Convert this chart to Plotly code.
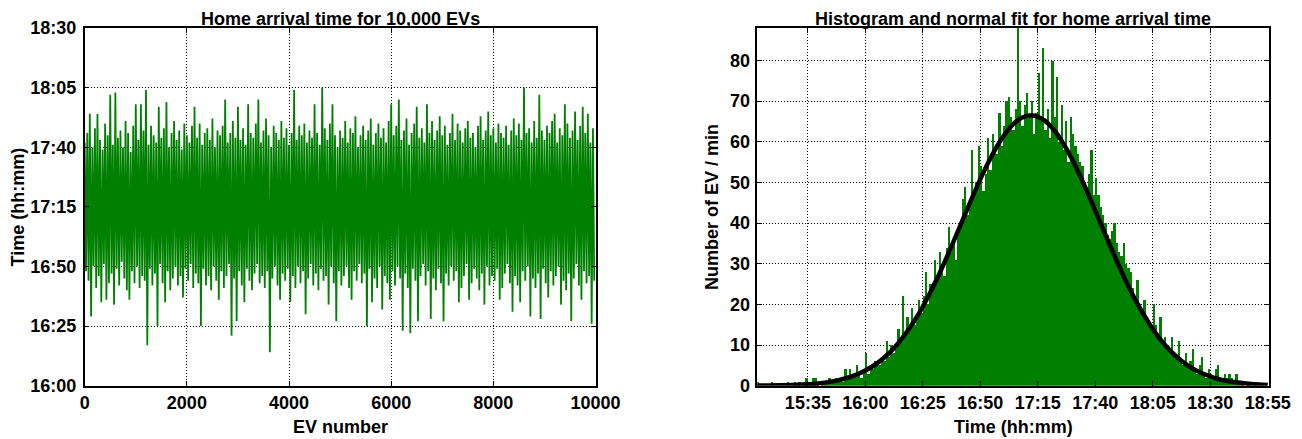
import numpy as np
import plotly.graph_objects as go

# ---------------- data (times in minutes after midnight) ----------------
# Left chart: arrival times of EVs, read as alternating upper / lower excursions
upper_arrivals = [
    1062, 1066, 1074, 1060, 1068, 1074, 1063, 1059, 1070, 1065, 1082, 1061, 1083, 1064, 1067, 1060, 1071, 1066, 1058, 1069,
    1078, 1063, 1078, 1067, 1084, 1061, 1069, 1065, 1062, 1077, 1064, 1068, 1079, 1060, 1066, 1071, 1063, 1067, 1059, 1070,
    1065, 1062, 1069, 1077, 1064, 1070, 1061, 1066, 1068, 1063, 1072, 1060, 1067, 1065, 1069, 1080, 1062, 1066, 1071, 1064,
    1077, 1063, 1068, 1061, 1078, 1066, 1064, 1070, 1080, 1062, 1067, 1072, 1065, 1060, 1069, 1066, 1063, 1071, 1064, 1068,
    1061, 1066, 1084, 1063, 1069, 1065, 1070, 1062, 1067, 1064, 1078, 1066, 1061, 1085, 1068, 1063, 1070, 1078, 1065, 1060,
    1067, 1064, 1071, 1062, 1068, 1066, 1073, 1060, 1065, 1069, 1063, 1067, 1072, 1061, 1066, 1070, 1064, 1068, 1062, 1071,
    1078, 1065, 1069, 1080, 1063, 1067, 1072, 1061, 1066, 1070, 1077, 1064, 1068, 1062, 1078, 1066, 1071, 1063, 1067, 1073,
    1065, 1069, 1061, 1066, 1074, 1063, 1070, 1067, 1062, 1068, 1071, 1064, 1066, 1060, 1069, 1073, 1063, 1067, 1075, 1065,
    1068, 1062, 1070, 1066, 1064, 1069, 1061, 1067, 1072, 1065, 1070, 1063, 1085, 1066, 1068, 1062, 1071, 1064, 1082, 1067,
    1063, 1069, 1066, 1071, 1074, 1062, 1068, 1065, 1078, 1070, 1064, 1067, 1075, 1063, 1069, 1077, 1066, 1074, 1062, 1068,
]
lower_arrivals = [
    1008, 1004, 989, 1010, 1001, 1006, 995, 1011, 996, 1003, 1007, 994, 1009, 1002, 1012, 1005, 1000, 996, 1008, 1003,
    1010, 1001, 1006, 1004, 977, 1009, 1002, 1007, 985, 1011, 1003, 995, 1008, 1000, 1005, 1010, 1002, 1006, 997, 1009,
    1004, 1011, 1001, 1007, 1003, 985, 1009, 1002, 1006, 1000, 1010, 1004, 996, 1008, 1001, 1006, 1011, 981, 1005, 987,
    1008, 1002, 995, 1009, 1004, 1000, 1007, 1011, 1003, 1006, 1001, 1008, 974, 1005, 1010, 1002, 996, 1007, 1004, 1009,
    995, 1006, 1001, 1010, 1003, 1008, 990, 1005, 1011, 1002, 1007, 1000, 1009, 1004, 1006, 994, 1010, 1003, 987, 1008,
    1002, 1006, 1010, 1001, 996, 1008, 1004, 1011, 1003, 1007, 985, 1009, 995, 1005, 1001, 1010, 992, 1006, 1003, 996,
    1008, 1002, 1010, 1005, 983, 1007, 1001, 982, 1009, 1004, 987, 1006, 1011, 1002, 1008, 988, 1005, 1000, 1009, 1003,
    987, 1007, 1002, 1010, 1004, 1008, 995, 1001, 1006, 1011, 996, 1003, 1009, 1005, 1000, 1007, 994, 1010, 1002, 1006,
    1004, 1009, 996, 1001, 1007, 1011, 1003, 991, 1006, 1002, 995, 1008, 1004, 1010, 989, 1005, 1001, 1007, 988, 1009,
    1003, 997, 1008, 1002, 1006, 1010, 994, 1004, 1000, 1007, 987, 1005, 1011, 1002, 996, 1008, 1003, 1006, 986, 1004,
]
ev_step = 25  # EVs between consecutive sampled arrivals

# Right chart: histogram counts per minute bin, starting at 15:13
hist_start_minute = 913
hist_counts = [
    1, 0, 0, 0, 0, 0, 1, 0, 0, 0,
    0, 0, 0, 1, 0, 0, 1, 0, 1, 0,
    1, 2, 1, 0, 2, 2, 1, 0, 1, 1,
    1, 2, 1, 1, 2, 1, 2, 1, 4, 2,
    4, 2, 3, 5, 3, 2, 4, 8, 3, 5,
    4, 6, 6, 5, 7, 6, 11, 7, 10, 8,
    9, 14, 11, 22, 13, 17, 14, 19, 15, 17,
    21, 18, 22, 28, 20, 25, 24, 31, 26, 33,
    30, 27, 34, 39, 33, 36, 31, 38, 40, 46,
    49, 42, 45, 58, 47, 50, 59, 54, 48, 52,
    61, 53, 62, 58, 57, 67, 59, 64, 70, 71,
    66, 63, 68, 88, 70, 64, 69, 72, 66, 70,
    62, 67, 77, 65, 83, 63, 68, 61, 80, 66,
    76, 60, 69, 58, 65, 55, 66, 62, 59, 57,
    55, 54, 50, 49, 52, 58, 47, 51, 47, 44,
    42, 40, 37, 36, 38, 40, 35, 33, 32, 35,
    30, 29, 28, 24, 22, 26, 20, 18, 21, 17,
    16, 14, 20, 15, 13, 17, 11, 12, 10, 9,
    12, 8, 7, 11, 6, 5, 8, 5, 6, 9,
    4, 3, 5, 7, 3, 2, 4, 3, 2, 4,
    5, 2, 1, 3, 2, 3, 2, 1, 3, 1,
    1, 1, 0, 1, 0, 0, 1, 0, 0, 0, 0, 0,
]

# Normal fit curve, read every 5 minutes from 15:13
fit_minutes = list(range(913, 1134, 5)) + [1135]
fit_values = [
    0.03, 0.05, 0.09, 0.16, 0.29, 0.49, 0.82, 1.32, 2.08, 3.17,
    4.72, 6.83, 9.6, 13.2, 17.5, 22.7, 28.6, 35.0, 41.7, 48.3,
    54.4, 59.6, 63.6, 65.9, 66.5, 65.2, 62.2, 57.7, 52.1, 45.7,
    39.0, 32.4, 26.1, 20.5, 15.7, 11.6, 8.4, 5.9, 4.0, 2.7,
    1.7, 1.1, 0.7, 0.4, 0.23, 0.18,
]

# Tick labels
left_y_tickvals = [960, 985, 1010, 1035, 1060, 1085, 1110]
left_y_ticktext = ["16:00", "16:25", "16:50", "17:15", "17:40", "18:05", "18:30"]
left_x_tickvals = [0, 2000, 4000, 6000, 8000, 10000]
right_x_tickvals = [935, 960, 985, 1010, 1035, 1060, 1085, 1110, 1135]
right_x_ticktext = ["15:35", "16:00", "16:25", "16:50", "17:15", "17:40", "18:05", "18:30", "18:55"]
right_y_tickvals = [0, 10, 20, 30, 40, 50, 60, 70, 80]

# ---------------- build traces ----------------
arrivals = np.empty(len(upper_arrivals) + len(lower_arrivals))
arrivals[0::2] = upper_arrivals
arrivals[1::2] = lower_arrivals
ev_number = ev_step * np.arange(len(arrivals))

bin_centers = hist_start_minute + 0.5 + np.arange(len(hist_counts))

GREEN = "#008000"
FONT = "Liberation Sans, Arial, sans-serif"
# page body has an 8 px margin: figure is placed at (8, 8) in the window
OFF = 8
W, H = 1302 - OFF, 439 - OFF

fig = go.Figure()
fig.add_trace(go.Scatter(x=ev_number, y=arrivals, mode="lines",
                         line=dict(color=GREEN, width=1.8, simplify=False), xaxis="x", yaxis="y",
                         showlegend=False, hoverinfo="skip"))
fig.add_trace(go.Bar(x=bin_centers, y=hist_counts, width=1.0,
                     marker=dict(color=GREEN, line=dict(width=0)),
                     xaxis="x2", yaxis="y2", showlegend=False))
fig.add_trace(go.Scatter(x=fit_minutes, y=fit_values, mode="lines",
                         line=dict(color="black", width=4.5, shape="spline"),
                         xaxis="x2", yaxis="y2", showlegend=False))

tickfont = dict(family=FONT, size=18, color="black", weight="bold")
common = dict(showline=True, linecolor="black", linewidth=1.5, mirror="ticks",
              ticks="inside", ticklen=5, tickcolor="black", tickwidth=1,
              showgrid=True, gridcolor="black", gridwidth=1, griddash="1px,2px",
              zeroline=False, tickfont=tickfont, automargin=False)

def px2x(px):
    return (px - OFF) / W

def py2y(py):
    return 1 - (py - OFF) / H

ydom = [py2y(385.7), py2y(28)]
fig.update_layout(
    width=W, height=H,
    margin=dict(l=0, r=0, t=0, b=0),
    paper_bgcolor="white", plot_bgcolor="white",
    bargap=0,
    xaxis=dict(domain=[px2x(84.7), px2x(595.5)], range=[0, 10000],
               tickvals=left_x_tickvals, tickformat="d", anchor="y", **common),
    yaxis=dict(domain=ydom, range=[960, 1110], tickvals=left_y_tickvals,
               ticktext=left_y_ticktext, anchor="x", ticklabelstandoff=3, **common),
    xaxis2=dict(domain=[px2x(757.3), px2x(1268.7)], range=[913, 1135.4],
                tickvals=right_x_tickvals, ticktext=right_x_ticktext, anchor="y2", **common),
    yaxis2=dict(domain=ydom, range=[0, 88], tickvals=right_y_tickvals, anchor="x2",
                ticklabelstandoff=2, **common),
)

annfont = dict(family=FONT, size=18, color="black", weight="bold")
annotations = [
    dict(text="Home arrival time for 10,000 EVs", x=px2x(340.1), y=py2y(19)),
    dict(text="Histogram and normal fit for home arrival time", x=px2x(1013), y=py2y(19)),
    dict(text="EV number", x=px2x(340.1), y=py2y(427)),
    dict(text="Time (hh:mm)", x=px2x(1013), y=py2y(427)),
    dict(text="Time (hh:mm)", x=px2x(17.5), y=py2y(206.9), textangle=-90),
    dict(text="Number of EV / min", x=px2x(712), y=py2y(206.9), textangle=-90),
]
for a in annotations:
    fig.add_annotation(xref="paper", yref="paper", showarrow=False,
                       xanchor="center", yanchor="middle", font=annfont, **a)

fig.write_html("out.html")
